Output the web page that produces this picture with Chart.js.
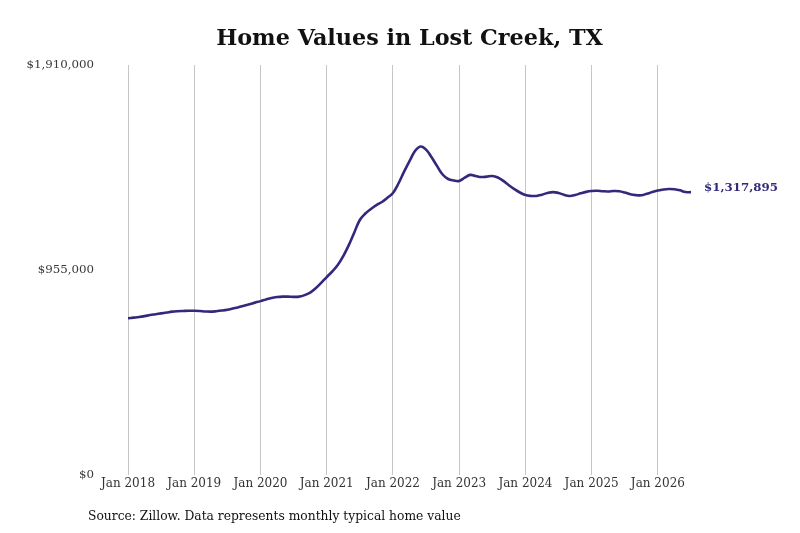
<!DOCTYPE html>
<html>
<head>
<meta charset="utf-8">
<script src="https://cdn.jsdelivr.net/npm/chart.js@4/dist/chart.umd.min.js"></script>
<style>
html,body{margin:0;padding:0;background:#fff;}
#wrap{width:800px;height:533px;}
</style>
</head>
<body>
<div id="wrap"><canvas id="c" width="800" height="533"></canvas></div>
<script>
const title = "Home Values in Lost Creek, TX";
const source = "Source: Zillow. Data represents monthly typical home value";
const endLabel = "$1,317,895";
const tickLabels = ["Jan 2018","Jan 2019","Jan 2020","Jan 2021","Jan 2022","Jan 2023","Jan 2024","Jan 2025","Jan 2026"];
const tickMonths = [0,12,24,36,48,60,72,84,96];
const yTicks = [0, 955000, 1910000];
// monthly typical home value, Jan 2018 .. Jul 2026 (thousands)
const values2018 = [730,733,736,740,745,749,753,757,761,763,764,765];
const values2019 = [765,764,762,761,763,766,770,776,782,789,796,803];
const values2020 = [810,818,825,829,831,831,830,831,838,850,870,895];
const values2021 = [922,948,978,1020,1071,1130,1188,1218,1239,1257,1272,1292];
const values2022 = [1314,1358,1412,1462,1509,1530,1516,1480,1439,1400,1379,1372];
const values2023 = [1370,1385,1398,1393,1388,1390,1393,1386,1370,1350,1332,1316];
const values2024 = [1304,1300,1300,1306,1314,1318,1314,1305,1300,1304,1312,1319];
const values2025 = [1323,1324,1322,1321,1323,1322,1316,1308,1304,1303,1310,1318];
const values2026 = [1325,1330,1332,1331,1326,1318,1317.895];

const values = [].concat(values2018,values2019,values2020,values2021,values2022,values2023,values2024,values2025,values2026).map(v=>v*1000);
const points = values.map((v,i)=>({x:i,y:v}));
const lineColor = "#32297b";

const decor = {
  id:'decor',
  afterDraw(chart){
    const ctx = chart.ctx, ca = chart.chartArea;
    ctx.save();
    ctx.fillStyle = "#111";
    ctx.font = "bold 22.3px 'DejaVu Serif'";
    ctx.textAlign = "center"; ctx.textBaseline = "middle";
    ctx.fillText(title, (ca.left+ca.right)/2, 39);
    ctx.font = "12.3px 'DejaVu Serif'";
    ctx.textAlign = "left";
    ctx.fillStyle = "#111";
    ctx.fillText(source, 88, 517);
    const meta = chart.getDatasetMeta(0);
    const last = meta.data[meta.data.length-1];
    ctx.font = "bold 11.8px 'DejaVu Serif'";
    ctx.fillStyle = lineColor;
    ctx.fillText(endLabel, last.x+13, last.y-4);
    ctx.restore();
  }
};

new Chart(document.getElementById('c'), {
  type:'line',
  data:{datasets:[{data:points, borderColor:lineColor, borderWidth:2.6, pointRadius:0, tension:0.4, fill:false}]},
  options:{
    responsive:false, animation:false, devicePixelRatio:1,
    layout:{padding:{top:65,right:109,left:0,bottom:0}},
    plugins:{legend:{display:false}, tooltip:{enabled:false}},
    scales:{
      x:{type:'linear', min:0, max:values.length-1,
        grid:{display:true, color:'#c6c6c6', lineWidth:1, drawTicks:false},
        border:{display:false},
        afterBuildTicks(ax){ ax.ticks = tickMonths.map(v=>({value:v})); },
        afterFit(ax){ ax.height = 58; },
        ticks:{autoSkip:false, maxRotation:0, padding:2, color:'#333', font:{family:'DejaVu Serif', size:12},
          callback:(v)=>{const i=tickMonths.indexOf(v); return i>=0?tickLabels[i]:'';}}
      },
      y:{min:0, max:1910000,
        grid:{display:false, drawTicks:false},
        border:{display:false},
        afterBuildTicks(ax){ ax.ticks = yTicks.map(v=>({value:v})); },
        afterFit(ax){ ax.width = 128; },
        ticks:{padding:34, color:'#3a3a3a', font:{family:'DejaVu Serif', size:11.8},
          callback:(v)=>'$'+Number(v).toLocaleString('en-US')}
      }
    }
  },
  plugins:[decor]
});
</script>
</body>
</html>
